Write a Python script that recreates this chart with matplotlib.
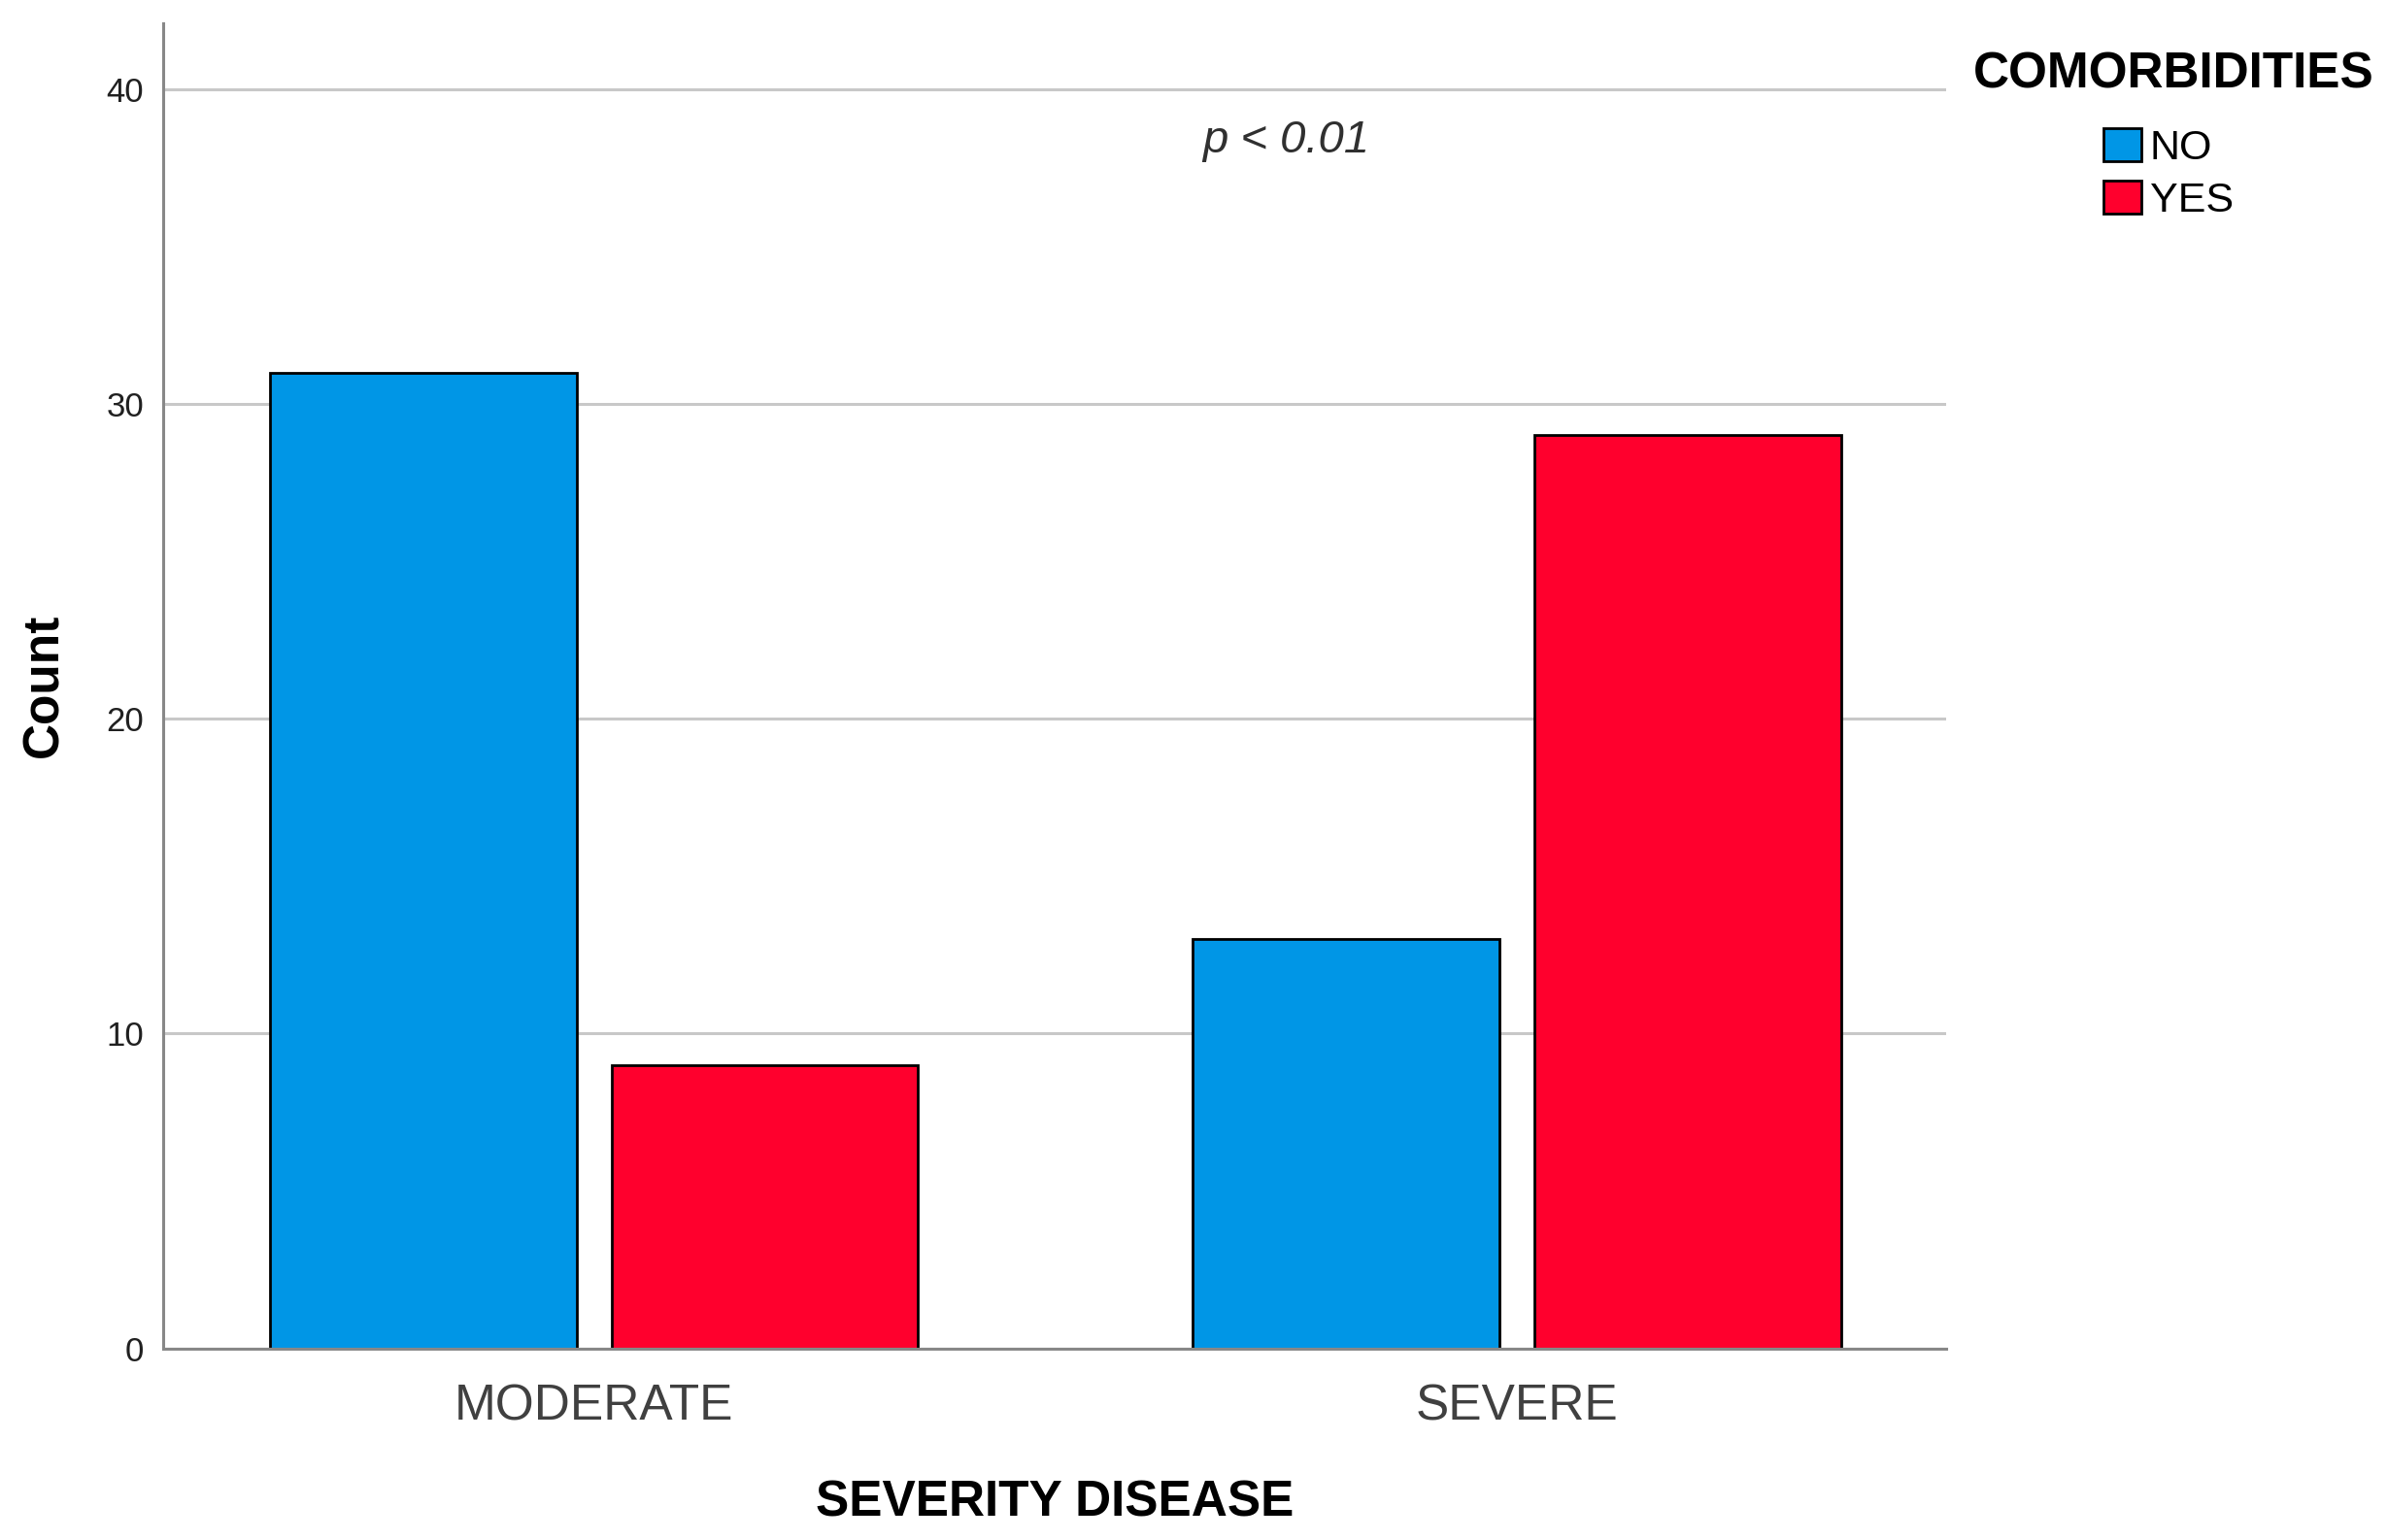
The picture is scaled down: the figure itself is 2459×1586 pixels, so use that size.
import numpy as np
import matplotlib
matplotlib.use('Agg')
from matplotlib import pyplot as plt

plt.rcParams['font.family'] = ['Liberation Sans', 'DejaVu Sans']

categories = ['MODERATE', 'SEVERE']
groups = ['NO', 'YES']
counts_no = [31, 13]
counts_yes = [9, 29]
colors = ['#0096e6', '#ff002d']

fig = plt.figure(figsize=(24.59, 15.86), dpi=100)
ax = fig.add_axes([0.0682, 0.1245, 0.7468, 0.8605])

x = np.arange(len(categories))
offset = 0.185
width = 0.332
ax.bar(x - offset, counts_no, width, color=colors[0], edgecolor='black',
       linewidth=2.0, label=groups[0], zorder=3)
ax.bar(x + offset, counts_yes, width, color=colors[1], edgecolor='black',
       linewidth=2.0, label=groups[1], zorder=3)

ax.set_xlim(-0.467, 1.465)
ax.set_ylim(0, 42.1)
ax.set_yticks([0, 10, 20, 30, 40])
ax.set_xticks(x)
ax.set_xticklabels(categories, fontsize=37, color='#404040')
ax.tick_params(axis='y', labelsize=25, length=0, pad=14, colors='#202020')
ax.tick_params(axis='x', length=0, pad=26)
ax.yaxis.grid(True, color='#c8c8c8', linewidth=2.2, zorder=0)

for s in ['top', 'right']:
    ax.spines[s].set_visible(False)
for s in ['left', 'bottom']:
    ax.spines[s].set_color('#888888')
    ax.spines[s].set_linewidth(2.2)
ax.spines['bottom'].set_zorder(4)

ax.set_xlabel('SEVERITY DISEASE', fontsize=37, fontweight='bold', labelpad=36)
ax.set_ylabel('Count', fontsize=37, fontweight='bold', labelpad=28)

ax.text(0.75, 38.35, 'p < 0.01', fontsize=34, style='italic', color='#303030',
        ha='center', va='center')

fig.text(0.8265, 0.943, 'COMORBIDITIES', fontsize=37, fontweight='bold',
         ha='left', va='baseline')
ax.legend(loc='upper left', bbox_to_anchor=(0.881, 0.917),
          bbox_transform=fig.transFigure, frameon=False, fontsize=31,
          handlelength=0.9, handleheight=0.85, handletextpad=0.2,
          labelspacing=0.3, borderpad=0, borderaxespad=0)

fig.savefig('out.png', dpi=100, facecolor='white')
